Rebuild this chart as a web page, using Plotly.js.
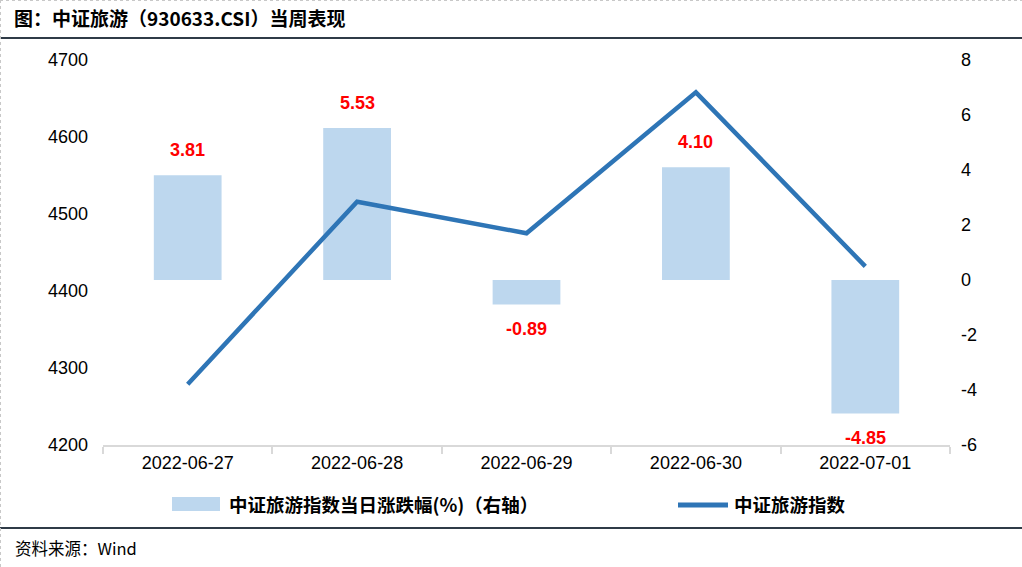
<!DOCTYPE html>
<html>
<head>
<meta charset="utf-8">
<script src="https://cdn.plot.ly/plotly-3.0.1.min.js"></script>
<style>html,body{margin:0;padding:0;background:#fff;}#chart{width:1022px;height:567px;}</style>
</head>
<body>
<div id="chart"></div>
<script>
const dates = ["2022-06-27", "2022-06-28", "2022-06-29", "2022-06-30", "2022-07-01"];
const indexValues = [4279, 4516, 4475, 4658, 4432];
const pctChange = [3.81, 5.53, -0.89, 4.10, -4.85];
const leftTicks = [4200, 4300, 4400, 4500, 4600, 4700];
const rightTicks = [-6, -4, -2, 0, 2, 4, 6, 8];
const barName = '中证旅游指数当日涨跌幅(%)（右轴）';
const lineName = '中证旅游指数';

const W = 1022, H = 567;
const M = {l: 103, r: 72, t: 60, b: 122};
const PW = W - M.l - M.r, PH = H - M.t - M.b;
const px = x => (x - M.l) / PW;
const py = y => (H - M.b - y) / PH;

const cjk = '"Noto Sans CJK SC", "Liberation Sans", sans-serif';
const arial = '"Liberation Sans", Arial, sans-serif';

// Bars on the primary (right-side) axis, line on the overlaying (left-side) axis so the line is drawn on top.
const barTrace = {
  type: 'bar', x: dates, y: pctChange, yaxis: 'y',
  name: barName, marker: {color: '#bdd7ee'}, width: 0.4
};
const lineTrace = {
  type: 'scatter', mode: 'lines', x: dates, y: indexValues, yaxis: 'y2',
  name: lineName, line: {color: '#2e75b6', width: 4.5}
};

const labelAnns = dates.map((d, i) => ({
  x: d, y: pctChange[i], xref: 'x', yref: 'y',
  text: '<b>' + pctChange[i].toFixed(2) + '</b>',
  showarrow: false, yshift: pctChange[i] >= 0 ? 25 : -25,
  font: {family: arial, size: 18, color: '#ff0000'}
}));

const layout = {
  width: W, height: H,
  margin: M,
  paper_bgcolor: '#ffffff', plot_bgcolor: '#ffffff',
  showlegend: false,
  title: {
    text: '<b>图：中证旅游（930633.CSI）当周表现</b>',
    xref: 'container', yref: 'container', x: 14 / W, xanchor: 'left',
    y: 1 - 19 / H, yanchor: 'middle',
    font: {family: cjk, size: 19, color: '#000000'}
  },
  xaxis: {
    type: 'category', showgrid: false, zeroline: false,
    showline: true, linecolor: '#d9d9d9', linewidth: 2,
    ticks: 'outside', ticklen: 7, tickwidth: 2, tickcolor: '#d9d9d9',
    tickson: 'boundaries',
    tickfont: {family: arial, size: 18, color: '#000000'}
  },
  yaxis: {
    side: 'right',
    range: [-6, 8], tickvals: rightTicks, ticktext: rightTicks.map(String),
    showgrid: false, zeroline: false, showline: false, ticks: '',
    ticklabelstandoff: 10,
    tickfont: {family: arial, size: 18, color: '#000000'}
  },
  yaxis2: {
    overlaying: 'y', side: 'left',
    range: [4200, 4700], tickvals: leftTicks, ticktext: leftTicks.map(String),
    showgrid: false, zeroline: false, showline: false, ticks: '',
    ticklabelstandoff: 14,
    tickfont: {family: arial, size: 18, color: '#000000'}
  },
  annotations: labelAnns.concat([
    {xref: 'paper', yref: 'paper', x: px(13), y: py(548),
     xanchor: 'left', yanchor: 'middle', showarrow: false,
     text: '资料来源：Wind',
     font: {family: cjk, size: 16.5, color: '#000000'}},
    {xref: 'paper', yref: 'paper', x: px(227), y: py(504),
     xanchor: 'left', yanchor: 'middle', showarrow: false,
     text: '<b>' + barName + '</b>',
     font: {family: cjk, size: 18.5, color: '#000000'}},
    {xref: 'paper', yref: 'paper', x: px(732), y: py(504),
     xanchor: 'left', yanchor: 'middle', showarrow: false,
     text: '<b>' + lineName + '</b>',
     font: {family: cjk, size: 18.5, color: '#000000'}}
  ]),
  shapes: [
    {type: 'rect', xref: 'paper', yref: 'paper', x0: px(172), x1: px(220), y0: py(497), y1: py(511),
     fillcolor: '#bdd7ee', line: {width: 0}},
    {type: 'line', xref: 'paper', yref: 'paper', x0: px(678), x1: px(728), y0: py(505), y1: py(505),
     line: {color: '#2e75b6', width: 5}},
    {type: 'line', xref: 'paper', yref: 'paper', x0: px(0), x1: px(W), y0: py(38), y1: py(38),
     line: {color: '#2f3b47', width: 2}},
    {type: 'line', xref: 'paper', yref: 'paper', x0: px(0), x1: px(W), y0: py(528), y1: py(528),
     line: {color: '#2f3b47', width: 2}},
    {type: 'line', xref: 'paper', yref: 'paper', x0: px(0.5), x1: px(0.5), y0: py(0), y1: py(H),
     line: {color: '#c8c8c8', width: 1, dash: 'dot'}},
    {type: 'line', xref: 'paper', yref: 'paper', x0: px(0), x1: px(W), y0: py(0.5), y1: py(0.5),
     line: {color: '#c8c8c8', width: 1, dash: 'dot'}}
  ]
};

Plotly.newPlot('chart', [barTrace, lineTrace], layout, {displayModeBar: false, staticPlot: true});
</script>
</body>
</html>
